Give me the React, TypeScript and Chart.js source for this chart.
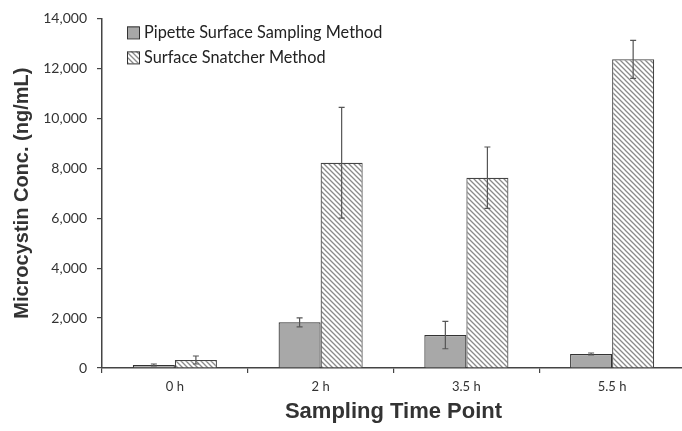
import React, { useEffect, useRef } from "react";
import { Chart, registerables } from "chart.js";

Chart.register(...registerables);

const categories = ["0 h", "2 h", "3.5 h", "5.5 h"];
const seriesNames = ["Pipette Surface Sampling Method", "Surface Snatcher Method"];
const pipetteValues = [120, 1830, 1320, 560];
const pipetteErrors = [40, 180, 550, 40];
const snatcherValues = [320, 8220, 7620, 12360];
const snatcherErrors = [160, 2220, 1230, 760];
const yTicks = [0, 2000, 4000, 6000, 8000, 10000, 12000, 14000];

function makeHatch(): CanvasPattern | string {
  const s = 5;
  const c = document.createElement("canvas");
  c.width = s;
  c.height = s;
  const g = c.getContext("2d");
  if (!g) return "#fff";
  g.fillStyle = "#ffffff";
  g.fillRect(0, 0, s, s);
  g.strokeStyle = "#8a8a8a";
  g.lineWidth = 1.3;
  g.beginPath();
  g.moveTo(0, 0);
  g.lineTo(s, s);
  g.moveTo(-1, s - 1);
  g.lineTo(1, s + 1);
  g.moveTo(s - 1, -1);
  g.lineTo(s + 1, 1);
  g.stroke();
  const p = g.createPattern(c, "repeat");
  return p || "#fff";
}

const errorBarPlugin = {
  id: "errorBars",
  afterDatasetsDraw(chart: any) {
    const ctx = chart.ctx;
    const y = chart.scales.y;
    ctx.save();
    ctx.strokeStyle = "#555";
    ctx.lineWidth = 1.2;
    chart.data.datasets.forEach((ds: any, di: number) => {
      const meta = chart.getDatasetMeta(di);
      meta.data.forEach((bar: any, i: number) => {
        const v = ds.data[i];
        const e = ds.errors[i];
        const x = bar.x;
        const yTop = y.getPixelForValue(v + e);
        const yBot = y.getPixelForValue(Math.max(0, v - e));
        const cap = 3;
        ctx.beginPath();
        ctx.moveTo(x, yTop);
        ctx.lineTo(x, yBot);
        ctx.moveTo(x - cap, yTop);
        ctx.lineTo(x + cap, yTop);
        ctx.moveTo(x - cap, yBot);
        ctx.lineTo(x + cap, yBot);
        ctx.stroke();
      });
    });
    ctx.restore();
  },
};

const legendPlugin = {
  id: "insideLegend",
  afterDraw(chart: any) {
    const ctx = chart.ctx;
    const left = chart.chartArea.left + 25;
    const top = chart.chartArea.top + 8;
    ctx.save();
    ctx.font = "16.3px Lato";
    ctx.textBaseline = "middle";
    chart.data.datasets.forEach((ds: any, i: number) => {
      const by = top + i * 25;
      ctx.fillStyle = ds.backgroundColor;
      ctx.fillRect(left, by, 12, 12);
      ctx.strokeStyle = "#333";
      ctx.lineWidth = 1;
      ctx.strokeRect(left + 0.5, by + 0.5, 12, 12);
      ctx.fillStyle = "#222";
      ctx.fillText(ds.label, left + 17, by + 6.5);
    });
    ctx.restore();
  },
};

export default function App() {
  const ref = useRef<HTMLCanvasElement | null>(null);
  useEffect(() => {
    if (!ref.current) return;
    const hatch = makeHatch();
    const chart = new Chart(ref.current, {
      type: "bar",
      data: {
        labels: categories,
        datasets: [
          {
            label: seriesNames[0],
            data: pipetteValues,
            errors: pipetteErrors,
            backgroundColor: "#a8a8a8",
            borderColor: "#333",
            borderWidth: 1.2,
            categoryPercentage: 0.577,
            barPercentage: 1,
          } as any,
          {
            label: seriesNames[1],
            data: snatcherValues,
            errors: snatcherErrors,
            backgroundColor: hatch,
            borderColor: "#444",
            borderWidth: 1.2,
            categoryPercentage: 0.577,
            barPercentage: 1,
          } as any,
        ],
      },
      options: {
        animation: false,
        responsive: false,
        devicePixelRatio: 1,
        layout: { padding: { left: 0, top: 15, right: 5, bottom: 0 } },
        plugins: { legend: { display: false }, tooltip: { enabled: false } },
        scales: {
          x: {
            border: { color: "#444", width: 1.5 },
            grid: { display: true, drawOnChartArea: false, drawTicks: true, tickLength: 5, color: "#444", lineWidth: 1.2 },
            ticks: { color: "#333", font: { family: "Lato", size: 13 }, padding: 6 },
            title: {
              display: true,
              text: "Sampling Time Point",
              color: "#333",
              font: { family: "Liberation Sans", size: 22, weight: "bold" },
              padding: { top: 0, bottom: 6 },
            },
            afterFit: (s: any) => { s.height = 63; },
          },
          y: {
            min: 0,
            max: 14000,
            border: { color: "#444", width: 1.5 },
            grid: { display: true, drawOnChartArea: false, drawTicks: true, tickLength: 5, color: "#444", lineWidth: 1.2 },
            afterBuildTicks: (s: any) => { s.ticks = yTicks.map((v) => ({ value: v })); },
            ticks: {
              color: "#333",
              font: { family: "Lato", size: 14 },
              padding: 10,
              callback: (v: any) => Number(v).toLocaleString("en-US"),
            },
            title: {
              display: true,
              text: "Microcystin Conc. (ng/mL)",
              color: "#333",
              font: { family: "Liberation Sans", size: 20, weight: "bold" },
              padding: { top: 10, bottom: 0 },
            },
            afterFit: (s: any) => { s.width = 102; },
          },
        },
      } as any,
      plugins: [errorBarPlugin, legendPlugin],
    });
    return () => chart.destroy();
  }, []);
  return (
    <div style={{ position: "absolute", left: 0, top: 0, width: 682, height: 431, overflow: "hidden", background: "#fff" }}>
      <canvas ref={ref} width={690} height={431} style={{ display: "block", width: 690, height: 431 }} />
    </div>
  );
}
